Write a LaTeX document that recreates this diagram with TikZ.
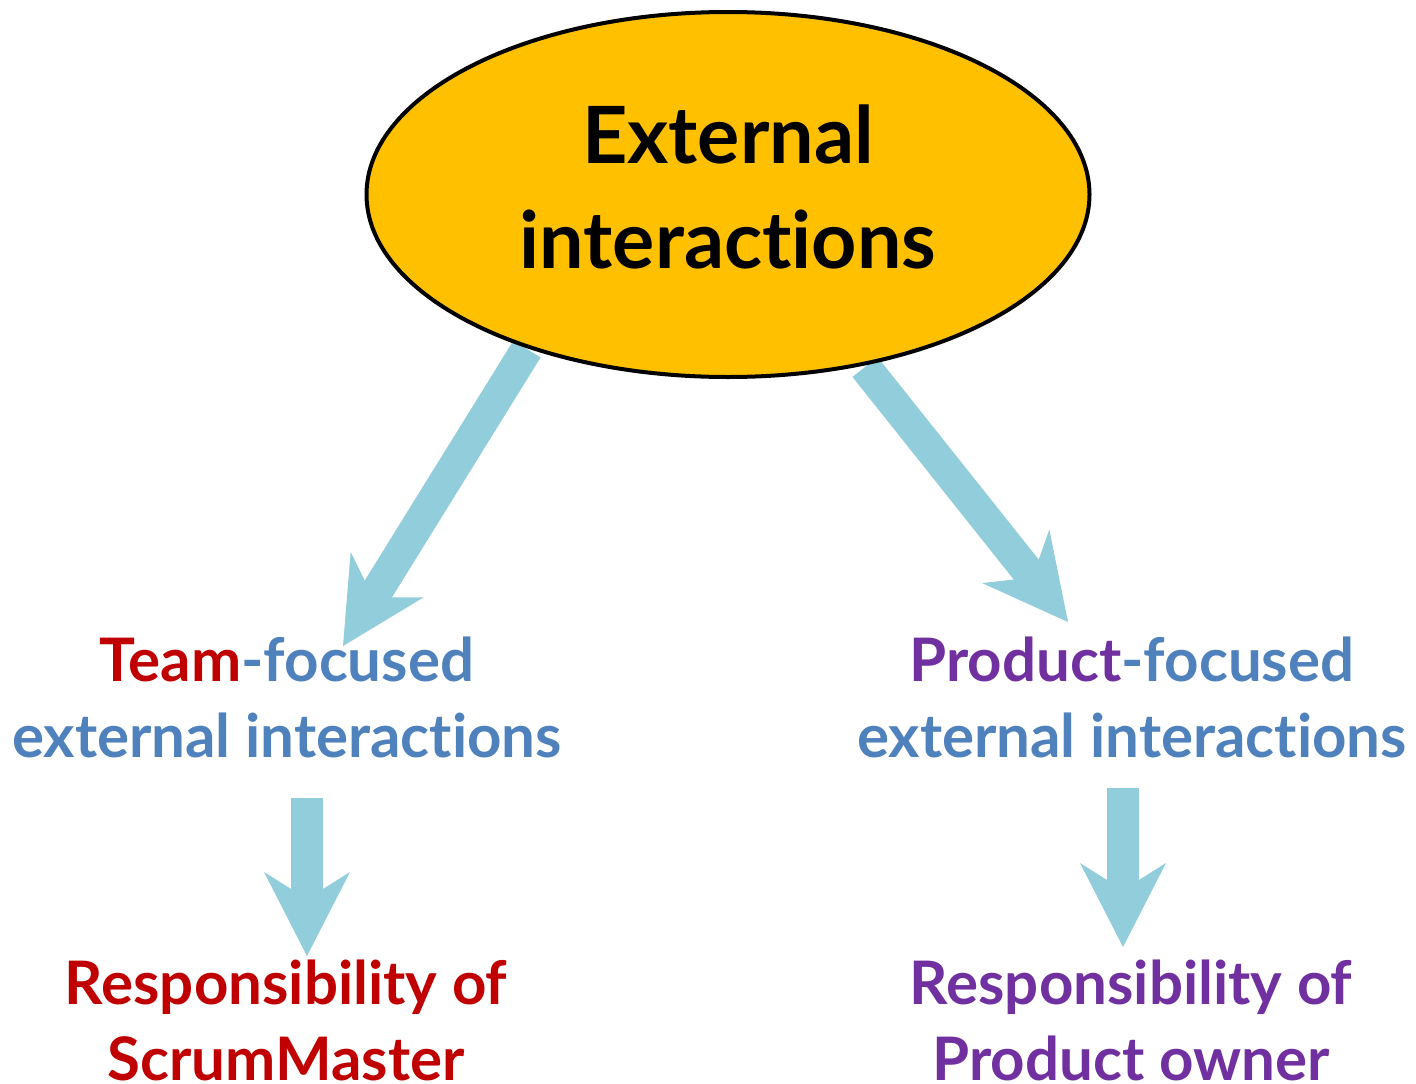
\documentclass[tikz,border=0pt]{standalone}
\usepackage{fontspec}
\setmainfont{Lato}[Ligatures={NoCommon,NoContextual}]
\usetikzlibrary{shapes.geometric,arrows.meta}

\definecolor{gold}{HTML}{FFC000}
\definecolor{arrowblue}{HTML}{92CDDC}
\definecolor{textblue}{HTML}{4F81BD}
\definecolor{teamred}{HTML}{C00000}
\definecolor{ownerpurple}{HTML}{7030A0}

\tikzset{
  bigarrow/.style={draw=arrowblue, line width=32pt,
    -{Stealth[length=84pt,width=86pt,inset=27pt,line width=0pt]}},
  label/.style={align=center, inner sep=0pt, anchor=base,
    font=\bfseries\fontsize{60}{76}\selectfont},
  titlebox/.style={ellipse, draw=black, line width=4pt, fill=gold,
    minimum width=723pt, minimum height=365pt, inner sep=0pt, align=center,
    font=\bfseries\fontsize{79}{105}\selectfont}
}

\begin{document}
\begin{tikzpicture}[x=1pt,y=-1pt]
  \useasboundingbox[fill=white] (0,0) rectangle (1416,1084);

  % arrow end points
  \coordinate (s1) at (527,349);
  \coordinate (t1) at (343,646);
  \coordinate (s2) at (865,367);
  \coordinate (t2) at (1068,622);
  \coordinate (s3) at (307,798);
  \coordinate (t3) at (307,956);
  \coordinate (s4) at (1123,788);
  \coordinate (t4) at (1123,947);

  % arrows sit beneath the ellipse
  \draw[bigarrow] (s1) -- (t1);
  \draw[bigarrow] (s2) -- (t2);

  \node[titlebox] (E) at (728,194.5) {\raisebox{7pt}{\begin{tabular}{@{}c@{}}External\\interactions\end{tabular}}};

  % base anchor sits on the last line's baseline
  \node[label, text=textblue] (T) at (287,757)
    {\textcolor{teamred}{Team}-focused\\external interactions};
  \node[label, text=textblue] (P) at (1132,757)
    {\textcolor{ownerpurple}{Product}-focused\\external interactions};

  \draw[bigarrow] (s3) -- (t3);
  \draw[bigarrow] (s4) -- (t4);

  \node[label, text=teamred] (R1) at (286,1080)
    {Responsibility of\\ScrumMaster};
  \node[label, text=ownerpurple] (R2) at (1131,1080)
    {Responsibility of\\Product owner};
\end{tikzpicture}
\end{document}
